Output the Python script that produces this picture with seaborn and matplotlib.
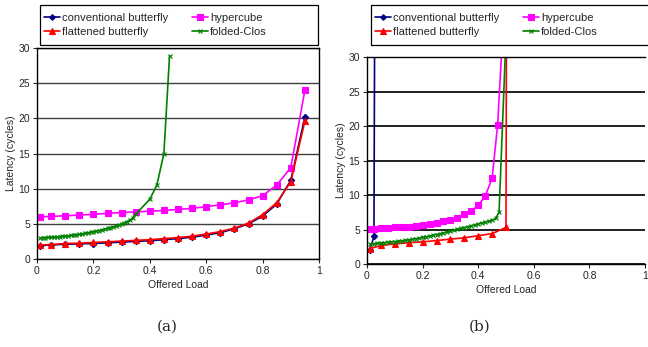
import matplotlib
matplotlib.use("Agg")
import matplotlib.pyplot as plt
import seaborn as sns
from matplotlib.patches import Rectangle

# ---- data, panel (a) ----
a_load = [0.01, 0.05, 0.1, 0.15, 0.2, 0.25, 0.3, 0.35, 0.4, 0.45,
          0.5, 0.55, 0.6, 0.65, 0.7, 0.75, 0.8, 0.85, 0.9, 0.95]
a_conv = [1.9, 2.0, 2.1, 2.15, 2.2, 2.3, 2.4, 2.5, 2.6, 2.75,
          2.9, 3.1, 3.4, 3.75, 4.3, 5.0, 6.1, 7.8, 11.2, 20.2]
a_flat = [2.0, 2.05, 2.2, 2.25, 2.35, 2.45, 2.55, 2.65, 2.75, 2.9,
          3.05, 3.25, 3.55, 3.9, 4.4, 5.1, 6.3, 8.0, 11.0, 19.6]
a_hyper = [6.0, 6.05, 6.15, 6.25, 6.35, 6.5, 6.6, 6.7, 6.8, 6.9,
           7.05, 7.2, 7.45, 7.7, 8.0, 8.4, 9.0, 10.5, 13.0, 24.0]
a_clos_load = [0.01, 0.02, 0.03, 0.04, 0.05, 0.06, 0.07, 0.08, 0.09, 0.1,
               0.11, 0.12, 0.13, 0.14, 0.15, 0.16, 0.17, 0.18, 0.19, 0.2,
               0.21, 0.22, 0.23, 0.24, 0.25, 0.26, 0.27, 0.28, 0.29, 0.3,
               0.31, 0.32, 0.33, 0.34, 0.35, 0.4, 0.425, 0.45, 0.47]
a_clos = [3.0, 3.02, 3.04, 3.06, 3.08, 3.11, 3.14, 3.18, 3.22, 3.26,
          3.3, 3.35, 3.4, 3.46, 3.52, 3.58, 3.65, 3.72, 3.8, 3.88,
          3.96, 4.05, 4.14, 4.24, 4.35, 4.46, 4.58, 4.71, 4.85, 5.0,
          5.16, 5.33, 5.55, 5.85, 6.35, 8.5, 10.5, 15.0, 28.9]

# ---- data, panel (b) ----
b_conv_load = [0.01, 0.025, 0.028]
b_conv = [2.0, 4.0, 40.0]
b_hyper_load = [0.01, 0.025, 0.05, 0.075, 0.1, 0.125, 0.15, 0.175, 0.2, 0.225,
                0.25, 0.275, 0.3, 0.325, 0.35, 0.375, 0.4, 0.425, 0.45, 0.47, 0.49]
b_hyper = [5.1, 5.1, 5.2, 5.2, 5.3, 5.3, 5.4, 5.5, 5.6, 5.8,
           6.0, 6.2, 6.4, 6.7, 7.2, 7.7, 8.5, 9.8, 12.4, 20.2, 35.0]
b_flat_load = [0.01, 0.05, 0.1, 0.15, 0.2, 0.25, 0.3, 0.35, 0.4, 0.45, 0.5, 0.503]
b_flat = [2.2, 2.7, 2.9, 3.1, 3.2, 3.4, 3.6, 3.8, 4.1, 4.4, 5.3, 60.0]
b_clos_load = [0.0125, 0.025, 0.0375, 0.05, 0.0625, 0.075, 0.0875, 0.1, 0.1125, 0.125,
               0.1375, 0.15, 0.1625, 0.175, 0.1875, 0.2, 0.2125, 0.225, 0.2375, 0.25,
               0.2625, 0.275, 0.2875, 0.3, 0.3125, 0.325, 0.3375, 0.35, 0.3625, 0.375,
               0.3875, 0.4, 0.4125, 0.425, 0.4375, 0.45, 0.4625, 0.475, 0.5]
b_clos = [2.85, 2.95, 3.0, 3.05, 3.1, 3.15, 3.2, 3.25, 3.3, 3.35,
          3.42, 3.5, 3.58, 3.66, 3.75, 3.85, 3.95, 4.05, 4.15, 4.27,
          4.4, 4.52, 4.65, 4.78, 4.9, 5.02, 5.15, 5.28, 5.42, 5.55,
          5.68, 5.82, 5.95, 6.08, 6.2, 6.35, 6.6, 7.5, 33.0]

x_ticks = [0, 0.2, 0.4, 0.6, 0.8, 1]
x_tick_labels = ["0", "0.2", "0.4", "0.6", "0.8", "1"]
y_ticks = [0, 5, 10, 15, 20, 25, 30]

sns.set_theme(style="white")
plt.rcParams['font.family'] = ['Liberation Sans', 'DejaVu Sans']

fig = plt.figure(figsize=(6.48, 3.47), dpi=100)
W, H = 648, 347


def px_axes(x0, y_top, x1, y_bot):
    return fig.add_axes([x0 / W, 1 - y_bot / H, (x1 - x0) / W, (y_bot - y_top) / H])


def draw(ax, series, grid_color, grid_lw):
    for x, y, name, color, marker, ms in series:
        sns.lineplot(x=x, y=y, ax=ax, color=color, marker=marker, markersize=ms,
                     markeredgecolor=color, linewidth=1.2, label=name,
                     legend=False, markeredgewidth=0.8)
    ax.set_xlim(0, 1)
    ax.set_ylim(0, 30)
    ax.set_xticks(x_ticks)
    ax.set_xticklabels(x_tick_labels)
    ax.set_yticks(y_ticks)
    ax.yaxis.grid(True, color=grid_color, linewidth=grid_lw)
    ax.set_axisbelow(True)
    ax.tick_params(axis='both', labelsize=7.5, length=3, width=0.8,
                   direction='out', bottom=True, left=True, pad=2)
    for s in ax.spines.values():
        s.set_color('black')
        s.set_linewidth(1.0)
    ax.set_xlabel("Offered Load", fontsize=7.5, labelpad=3)
    ax.set_ylabel("Latency (cycles)", fontsize=7.5, labelpad=2)


navy, magenta, red, green = '#000080', '#FF00FF', '#FF0000', '#008000'

# panel (a)
ax1 = px_axes(37, 48, 319, 259)
draw(ax1, [
    (a_load, a_conv, "conventional butterfly", navy, 'D', 3.2),
    (a_load, a_hyper, "hypercube", magenta, 's', 5.0),
    (a_load, a_flat, "flattened butterfly", red, '^', 5.0),
    (a_clos_load, a_clos, "folded-Clos", green, 'x', 3.5),
], '#404040', 1.0)

# panel (b)
ax2 = px_axes(367, 57, 645, 264)
draw(ax2, [
    (b_conv_load, b_conv, "conventional butterfly", navy, 'D', 3.2),
    (b_hyper_load, b_hyper, "hypercube", magenta, 's', 5.0),
    (b_flat_load, b_flat, "flattened butterfly", red, '^', 5.0),
    (b_clos_load, b_clos, "folded-Clos", green, 'x', 3.5),
], '#202020', 1.4)
ax2.spines['right'].set_visible(False)

# legends: framed box across the top of each panel
for ax, (lx0, lx1) in [(ax1, (40, 318)), (ax2, (371, 652))]:
    fig.patches.append(Rectangle((lx0 / W, 1 - 45 / H), (lx1 - lx0) / W, 40 / H,
                                 transform=fig.transFigure, fill=False,
                                 edgecolor='black', linewidth=0.9))
    h, l = ax.get_legend_handles_labels()
    order = [0, 2, 1, 3]
    ax.legend([h[i] for i in order], [l[i] for i in order], ncol=2,
              loc='center left',
              bbox_to_anchor=((lx0 + 4) / W, 1 - 25 / H),
              bbox_transform=fig.transFigure, fontsize=8,
              frameon=False, handlelength=1.4, markerscale=0.9,
              handletextpad=0.2, borderpad=0.0, labelspacing=0.3,
              columnspacing=2.2, borderaxespad=0)

fig.text(167 / W, 1 - 327 / H, "(a)", ha='center', va='center',
         fontsize=11, family=['DejaVu Serif'])
fig.text(480 / W, 1 - 327 / H, "(b)", ha='center', va='center',
         fontsize=11, family=['DejaVu Serif'])

fig.savefig("out.png", dpi=100)
